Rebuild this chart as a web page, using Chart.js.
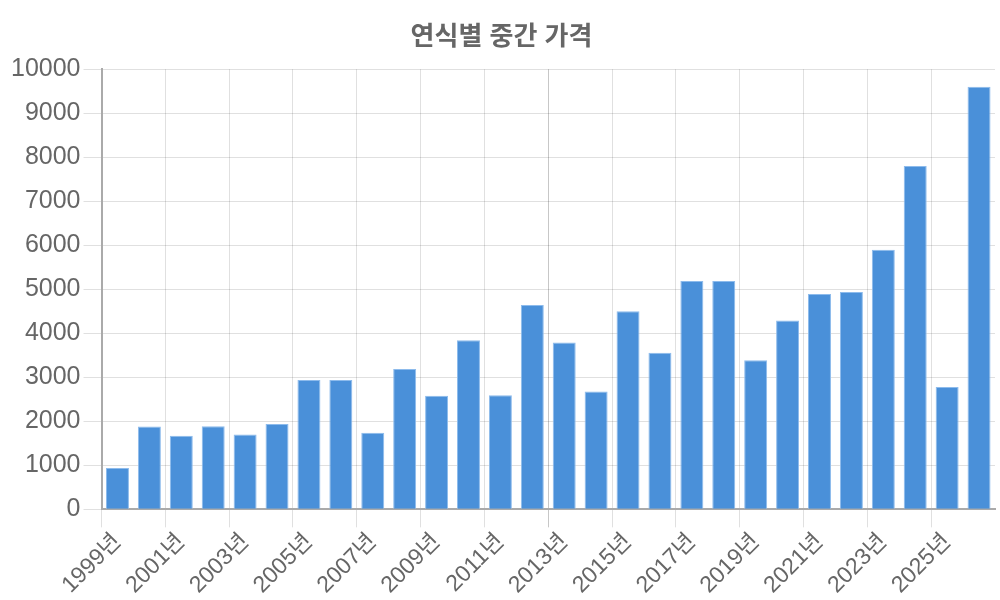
<!DOCTYPE html>
<html lang="ko">
<head>
<meta charset="utf-8">
<title>연식별 중간 가격</title>
<script src="https://cdn.jsdelivr.net/npm/chart.js@4/dist/chart.umd.min.js"></script>
<style>
    html, body { margin: 0; padding: 0; background: #fff; }
    #wrap { width: 1000px; height: 600px; }
</style>
</head>
<body>
<div id="wrap"><canvas id="priceChart"></canvas></div>
<script>
// 연식 (1999 ~ 2026)
const years = ['1999년', '2000년', '2001년', '2002년', '2003년', '2004년', '2005년',
    '2006년', '2007년', '2008년', '2009년', '2010년', '2011년', '2012년', '2013년',
    '2014년', '2015년', '2016년', '2017년', '2018년', '2019년', '2020년', '2021년',
    '2022년', '2023년', '2024년', '2025년', '2026년'];

// 중간 가격
const medianPrices = [940, 1880, 1670, 1890, 1700, 1940, 2940,
    2940, 1740, 3190, 2580, 3840, 2590, 4640, 3790,
    2680, 4500, 3560, 5190, 5190, 3390, 4290, 4890,
    4940, 5900, 7800, 2780, 9600];

const yTicks = [0, 1000, 2000, 3000, 4000, 5000, 6000, 7000, 8000, 9000, 10000];

const fontFamily = "'Liberation Sans', 'Noto Sans CJK KR', sans-serif";

const priceChart = new Chart(document.getElementById('priceChart'), {
    type: 'bar',
    data: {
        labels: years,
        datasets: [{
            label: '중간 가격',
            data: medianPrices,
            backgroundColor: '#4a90d9',
            borderColor: '#8dbbec',
            borderWidth: 1
        }]
    },
    options: {
        responsive: true,
        maintainAspectRatio: false,
        animation: false,
        layout: {
            padding: { top: 16, right: 5, bottom: 0, left: 8 }
        },
        plugins: {
            legend: { display: false },
            tooltip: { enabled: false },
            title: {
                display: true,
                text: '연식별 중간 가격',
                color: '#666',
                font: { family: fontFamily, size: 26, weight: 'bold' },
                padding: { top: 6, bottom: 16 }
            }
        },
        scales: {
            x: {
                offset: true,
                grid: {
                    offset: true,
                    tickLength: 18,
                    lineWidth: 1,
                    color: function(ctx) {
                        const i = ctx.index;
                        if (i === undefined || i % 2 !== 0) return 'rgba(0,0,0,0)';
                        if (i === 14) return 'rgba(0,0,0,0.22)';
                        return 'rgba(0,0,0,0.12)';
                    }
                },
                border: { color: '#aaa', width: 2 },
                ticks: {
                    autoSkip: false,
                    minRotation: 45,
                    maxRotation: 45,
                    padding: 1,
                    color: '#666',
                    font: { family: fontFamily, size: 23 },
                    callback: function(value, index) {
                        return index % 2 === 0 ? this.getLabelForValue(value) : '';
                    }
                }
            },
            y: {
                min: 0,
                max: 10000,
                afterBuildTicks: function(axis) {
                    axis.ticks = yTicks.map(v => ({ value: v }));
                },
                grid: {
                    color: 'rgba(0,0,0,0.12)',
                    tickLength: 18
                },
                border: { color: '#aaa', width: 2 },
                ticks: {
                    color: '#666',
                    padding: 3,
                    font: { family: fontFamily, size: 25 },
                    callback: function(value) {
                        return String(value);
                    }
                }
            }
        }
    }
});
</script>
</body>
</html>
